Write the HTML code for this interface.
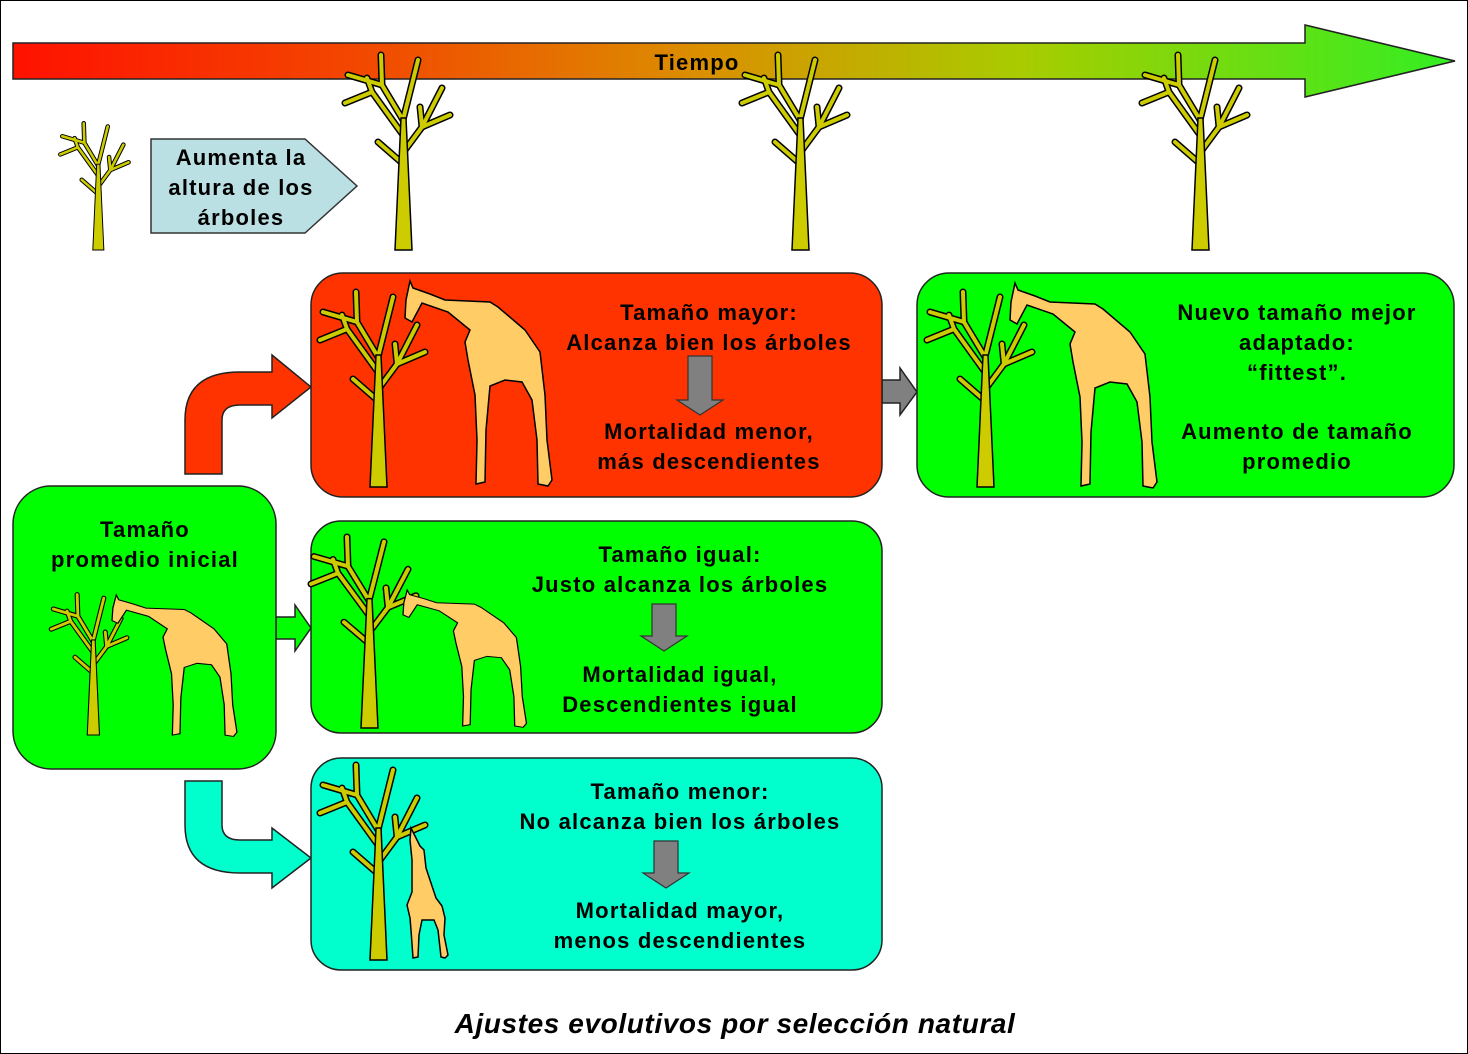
<!DOCTYPE html>
<html><head><meta charset="utf-8"><style>
html,body{margin:0;padding:0;background:#fff}
svg{display:block}
text{font-family:"Liberation Sans",Arial,sans-serif;font-weight:bold;font-size:22px;fill:#000;text-anchor:middle;letter-spacing:1.2px}
</style></head><body>
<svg width="1468" height="1054" viewBox="0 0 1468 1054" xmlns="http://www.w3.org/2000/svg">
<defs>
<linearGradient id="tg" x1="0" x2="1" y1="0" y2="0">
<stop offset="0" stop-color="#ff1100"/>
<stop offset="0.25" stop-color="#f24a00"/>
<stop offset="0.48" stop-color="#da9000"/>
<stop offset="0.7" stop-color="#a8cc00"/>
<stop offset="1" stop-color="#33ee22"/>
</linearGradient>
<g id="tree">
<g fill="none" stroke-linecap="round" stroke-linejoin="round">
<g stroke="#000" stroke-width="7">
<polyline points="0,-130 -21,-165 -22,-195"/><polyline points="-21,-165 -55,-175"/>
<polyline points="0,-130 15,-190"/>
<polyline points="0,-115 -31,-158 -58,-147"/><polyline points="-31,-158 -36,-172"/>
<polyline points="2,-100 19,-123 39,-162"/><polyline points="19,-123 47,-135"/><polyline points="19,-123 17,-143"/>
<polyline points="-2,-88 -25,-108"/>
</g>
<g stroke="#cccc00" stroke-width="4">
<polyline points="0,-130 -21,-165 -22,-195"/><polyline points="-21,-165 -55,-175"/>
<polyline points="0,-130 15,-190"/>
<polyline points="0,-115 -31,-158 -58,-147"/><polyline points="-31,-158 -36,-172"/>
<polyline points="2,-100 19,-123 39,-162"/><polyline points="19,-123 47,-135"/><polyline points="19,-123 17,-143"/>
<polyline points="-2,-88 -25,-108"/>
</g>
</g>
<polygon points="-8,0 9,0 3,-132 -2,-132" fill="#cccc00" stroke="#000" stroke-width="1.5"/>
</g>
<path id="gir" d="M410,281 L413,288 L430,294 L445,300 L490,302 L498,307 L525,330 L540,352 L545,395 L547,440 L552,480 L548,486 L538,484 L537,440 L532,400 L522,382 L505,380 L490,386 L486,430 L485,482 L476,484 L477,440 L475,395 L468,360 L465,342 L470,330 L448,312 L422,303 L412,322 L405,318 L406,300 Z" fill="#ffcc66" stroke="#000" stroke-width="1.5"/>
</defs>
<rect x="0.5" y="0.5" width="1467" height="1053" fill="#fff" stroke="#000"/>
<path d="M13,43 L1305,43 L1305,25 L1455,61 L1305,97 L1305,79 L13,79 Z" fill="url(#tg)" stroke="#222" stroke-width="1.5"/>
<text x="697" y="70">Tiempo</text>
<use href="#tree" transform="translate(98,250) scale(0.65)"/>
<use href="#tree" transform="translate(403,250)"/>
<use href="#tree" transform="translate(800,250)"/>
<use href="#tree" transform="translate(1200,250)"/>
<path d="M151,139 L305,139 L357,186 L305,233 L151,233 Z" fill="#bbe0e3" stroke="#333" stroke-width="1.5"/>
<text x="241" y="165">Aumenta la</text>
<text x="241" y="195">altura de los</text>
<text x="241" y="225">árboles</text>
<path d="M185,474 L185,420 Q185,372 240,372 L272,372 L272,355 L311,387 L272,418 L272,405 L240,405 Q222,405 222,420 L222,474 Z" fill="#ff3300" stroke="#222" stroke-width="1.5"/>
<path d="M185,781 L222,781 L222,825 Q222,840 240,840 L272,840 L272,828 L311,858 L272,888 L272,873 L240,873 Q185,873 185,825 Z" fill="#00ffcc" stroke="#222" stroke-width="1.5"/>
<path d="M276,617 L295,617 L295,605 L311,628 L295,651 L295,639 L276,639 Z" fill="#00ff00" stroke="#222" stroke-width="1.5"/>
<path d="M882,380 L900,380 L900,368 L917,392 L900,415 L900,403 L882,403 Z" fill="#808080" stroke="#222" stroke-width="1.5"/>
<rect x="311" y="273" width="571" height="224" rx="32" fill="#ff3300" stroke="#222" stroke-width="1.5"/>
<rect x="917" y="273" width="537" height="224" rx="32" fill="#00ff00" stroke="#222" stroke-width="1.5"/>
<rect x="13" y="486" width="263" height="283" rx="38" fill="#00ff00" stroke="#222" stroke-width="1.5"/>
<rect x="311" y="521" width="571" height="212" rx="30" fill="#00ff00" stroke="#222" stroke-width="1.5"/>
<rect x="311" y="758" width="571" height="212" rx="30" fill="#00ffcc" stroke="#222" stroke-width="1.5"/>
<use href="#tree" transform="translate(378,487)"/>
<use href="#gir"/>
<text x="709" y="320">Tamaño mayor:</text>
<text x="709" y="350">Alcanza bien los árboles</text>
<path d="M688,356 L712,356 L712,400 L723,400 L700,415 L677,400 L688,400 Z" fill="#808080" stroke="#333" stroke-width="1.2"/>
<text x="709" y="439">Mortalidad menor,</text>
<text x="709" y="469">más descendientes</text>
<use href="#tree" transform="translate(985,487)"/>
<use href="#gir" transform="translate(605,2)"/>
<text x="1297" y="320">Nuevo tamaño mejor</text>
<text x="1297" y="350">adaptado:</text>
<text x="1297" y="380">“fittest”.</text>
<text x="1297" y="439">Aumento de tamaño</text>
<text x="1297" y="469">promedio</text>
<text x="145" y="537">Tamaño</text>
<text x="145" y="567">promedio inicial</text>
<use href="#tree" transform="translate(93,735) scale(0.72)"/>
<use href="#gir" transform="translate(112,595) scale(0.85,0.69) translate(-405,-281)"/>
<use href="#tree" transform="translate(369,728) scale(1,0.98)"/>
<use href="#gir" transform="translate(403,590) scale(0.84,0.67) translate(-405,-281)"/>
<text x="680" y="562">Tamaño igual:</text>
<text x="680" y="592">Justo alcanza los árboles</text>
<path d="M652,604 L676,604 L676,636 L687,636 L664,651 L641,636 L652,636 Z" fill="#808080" stroke="#333" stroke-width="1.2"/>
<text x="680" y="682">Mortalidad igual,</text>
<text x="680" y="712">Descendientes igual</text>
<use href="#tree" transform="translate(378,960)"/>
<path d="M411,828 L416,838 L420,846 L424,850 L426,868 L436,898 L442,906 L445,918 L444,935 L448,955 L445,958 L441,957 L438,930 L434,920 L422,920 L419,935 L418,957 L413,958 L411,930 L410,918 L407,905 L412,892 L412,860 L410,840 Z" fill="#ffcc66" stroke="#000" stroke-width="1.5"/>
<text x="680" y="799">Tamaño menor:</text>
<text x="680" y="829">No alcanza bien los árboles</text>
<path d="M654,841 L678,841 L678,873 L689,873 L666,888 L643,873 L654,873 Z" fill="#808080" stroke="#333" stroke-width="1.2"/>
<text x="680" y="918">Mortalidad mayor,</text>
<text x="680" y="948">menos descendientes</text>
<text x="735" y="1033" style="font-style:italic;font-size:28px;letter-spacing:0.6px">Ajustes evolutivos por selección natural</text>
</svg>
</body></html>
